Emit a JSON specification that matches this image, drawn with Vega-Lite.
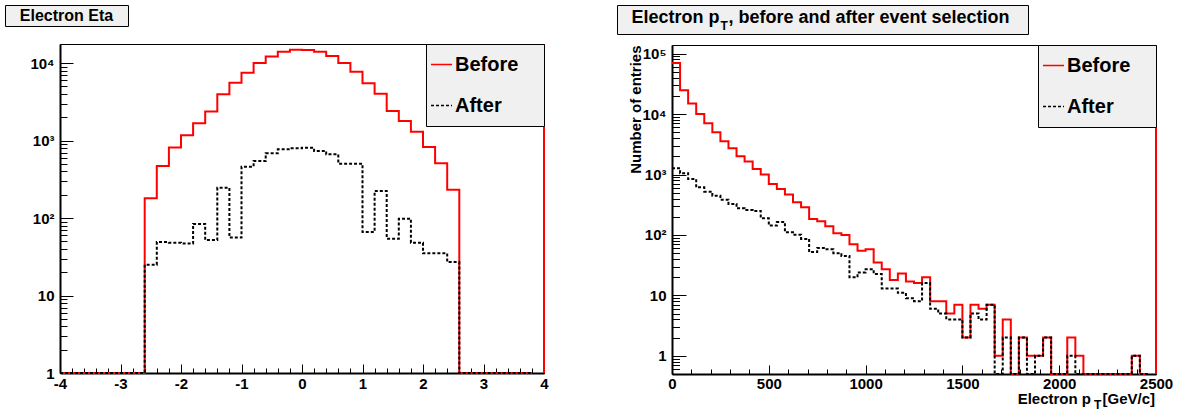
{
  "$schema": "https://vega.github.io/schema/vega-lite/v6.json",
  "background": "white",
  "padding": {"left": 4, "top": 4, "right": 0, "bottom": 0},
  "config": {
    "font": "Liberation Sans",
    "axis": {
      "labelFont": "Liberation Sans", "labelFontWeight": "bold", "labelFontSize": 15, "labelColor": "black",
      "tickColor": "black", "domainColor": "black", "grid": false, "zindex": 0,
      "titleFont": "Liberation Sans", "titleFontWeight": "bold", "titleFontSize": 15, "titleColor": "black",
      "labelFlush": false, "labelOverlap": false
    },
    "legend": {
      "orient": "top-right", "offset": 0, "fillColor": "#f0f0f0", "strokeColor": "black", "padding": 0,
      "labelFont": "Liberation Sans", "labelFontSize": 20, "labelFontWeight": "bold", "labelColor": "black",
      "symbolSize": 441, "symbolStrokeWidth": 1.5, "clipHeight": 41, "rowPadding": 0,
      "symbolOffset": 4, "labelOffset": 2, "labelLimit": 0,
      "titleOrient": "right", "titlePadding": 26, "titleFontSize": 1
    }
  },
  "datasets": {
    "eta": [
      {"eta": -4.0, "before": 1, "after": 1},
      {"eta": -3.8, "before": 1, "after": 1},
      {"eta": -3.6, "before": 1, "after": 1},
      {"eta": -3.4, "before": 1, "after": 1},
      {"eta": -3.2, "before": 1, "after": 1},
      {"eta": -3.0, "before": 1, "after": 1},
      {"eta": -2.8, "before": 1, "after": 1},
      {"eta": -2.6, "before": 180, "after": 25},
      {"eta": -2.4, "before": 470, "after": 49},
      {"eta": -2.2, "before": 810, "after": 48},
      {"eta": -2.0, "before": 1170, "after": 47},
      {"eta": -1.8, "before": 1670, "after": 84},
      {"eta": -1.6, "before": 2360, "after": 52},
      {"eta": -1.4, "before": 3950, "after": 246},
      {"eta": -1.2, "before": 5570, "after": 56},
      {"eta": -1.0, "before": 7500, "after": 460},
      {"eta": -0.8, "before": 10000, "after": 544},
      {"eta": -0.6, "before": 12100, "after": 683},
      {"eta": -0.4, "before": 14000, "after": 769},
      {"eta": -0.2, "before": 14850, "after": 793},
      {"eta": 0.0, "before": 14700, "after": 807},
      {"eta": 0.2, "before": 14000, "after": 733},
      {"eta": 0.4, "before": 12300, "after": 664},
      {"eta": 0.6, "before": 10000, "after": 503},
      {"eta": 0.8, "before": 7720, "after": 502},
      {"eta": 1.0, "before": 5470, "after": 66},
      {"eta": 1.2, "before": 4020, "after": 223},
      {"eta": 1.4, "before": 2400, "after": 54},
      {"eta": 1.6, "before": 1785, "after": 98},
      {"eta": 1.8, "before": 1300, "after": 48},
      {"eta": 2.0, "before": 824, "after": 35},
      {"eta": 2.2, "before": 508, "after": 35},
      {"eta": 2.4, "before": 232, "after": 27},
      {"eta": 2.6, "before": 1, "after": 1},
      {"eta": 2.8, "before": 1, "after": 1},
      {"eta": 3.0, "before": 1, "after": 1},
      {"eta": 3.2, "before": 1, "after": 1},
      {"eta": 3.4, "before": 1, "after": 1},
      {"eta": 3.6, "before": 1, "after": 1},
      {"eta": 3.8, "before": 1, "after": 1}
    ],
    "pt": [
      {"pt": 0, "before": 69700, "after": 1265},
      {"pt": 41.67, "before": 24900, "after": 1050},
      {"pt": 83.33, "before": 15000, "after": 843},
      {"pt": 125, "before": 10000, "after": 614},
      {"pt": 166.67, "before": 7020, "after": 520},
      {"pt": 208.33, "before": 4990, "after": 447},
      {"pt": 250, "before": 3540, "after": 384},
      {"pt": 291.67, "before": 2710, "after": 325},
      {"pt": 333.33, "before": 2000, "after": 276},
      {"pt": 375, "before": 1635, "after": 259},
      {"pt": 416.67, "before": 1234, "after": 249},
      {"pt": 458.33, "before": 996, "after": 188},
      {"pt": 500, "before": 695, "after": 143},
      {"pt": 541.67, "before": 576, "after": 164},
      {"pt": 583.33, "before": 465, "after": 111},
      {"pt": 625, "before": 347, "after": 101},
      {"pt": 666.67, "before": 287, "after": 86},
      {"pt": 708.33, "before": 184, "after": 52},
      {"pt": 750, "before": 168, "after": 61},
      {"pt": 791.67, "before": 139, "after": 58},
      {"pt": 833.33, "before": 107, "after": 50},
      {"pt": 875, "before": 100, "after": 45},
      {"pt": 916.67, "before": 70, "after": 20},
      {"pt": 958.33, "before": 55, "after": 24},
      {"pt": 1000, "before": 58, "after": 27},
      {"pt": 1041.67, "before": 35, "after": 22.5},
      {"pt": 1083.33, "before": 27, "after": 13},
      {"pt": 1125, "before": 18, "after": 13},
      {"pt": 1166.67, "before": 23, "after": 11},
      {"pt": 1208.33, "before": 17, "after": 9},
      {"pt": 1250, "before": 16, "after": 8},
      {"pt": 1291.67, "before": 20, "after": 16},
      {"pt": 1333.33, "before": 8, "after": 6},
      {"pt": 1375, "before": 8, "after": 5},
      {"pt": 1416.67, "before": 5, "after": 4},
      {"pt": 1458.33, "before": 7, "after": 4},
      {"pt": 1500, "before": 2, "after": 2},
      {"pt": 1541.67, "before": 7, "after": 5},
      {"pt": 1583.33, "before": 6, "after": 4},
      {"pt": 1625, "before": 7, "after": 7},
      {"pt": 1666.67, "before": 1, "after": 0.5},
      {"pt": 1708.33, "before": 4, "after": 2},
      {"pt": 1750, "before": 0.5, "after": 0.5},
      {"pt": 1791.67, "before": 2, "after": 2},
      {"pt": 1833.33, "before": 1, "after": 0.5},
      {"pt": 1875, "before": 1, "after": 1},
      {"pt": 1916.67, "before": 2, "after": 2},
      {"pt": 1958.33, "before": 0.5, "after": 0.5},
      {"pt": 2000, "before": 0.5, "after": 0.5},
      {"pt": 2041.67, "before": 2, "after": 1},
      {"pt": 2083.33, "before": 1, "after": 0.5},
      {"pt": 2125, "before": 0.5, "after": 0.5},
      {"pt": 2166.67, "before": 0.5, "after": 0.5},
      {"pt": 2208.33, "before": 0.5, "after": 0.5},
      {"pt": 2250, "before": 0.5, "after": 0.5},
      {"pt": 2291.67, "before": 0.5, "after": 0.5},
      {"pt": 2333.33, "before": 0.5, "after": 0.5},
      {"pt": 2375, "before": 1, "after": 1},
      {"pt": 2416.67, "before": 0.5, "after": 0.5},
      {"pt": 2458.33, "before": 0.5, "after": 0.5}
    ]
  },
  "resolve": {
    "scale": {"color": "independent", "strokeDash": "independent"},
    "legend": {"color": "independent", "strokeDash": "independent"}
  },
  "hconcat": [
    {
      "spacing": 15,
      "resolve": {
        "scale": {"color": "independent", "strokeDash": "independent"},
        "legend": {"color": "independent", "strokeDash": "independent"}
      },
      "vconcat": [
        {
          "width": 123, "height": 21,
          "view": {"fill": "#f0f0f0", "stroke": "black", "strokeWidth": 1},
          "data": {"values": [{"t": "Electron Eta"}]},
          "mark": {"type": "text", "font": "Liberation Sans", "fontWeight": "bold", "fontSize": 16, "color": "black"},
          "encoding": {"text": {"field": "t"}}
        },
        {
          "spacing": 0,
          "resolve": {
            "scale": {"color": "independent", "strokeDash": "independent"},
            "legend": {"color": "independent", "strokeDash": "independent"}
          },
          "hconcat": [
            {
              "width": 1, "height": 1,
              "view": {"stroke": null, "fill": null},
              "data": {"values": []},
              "mark": {"type": "point", "opacity": 0}
            },
            {
              "width": 484, "height": 329,
              "view": {"stroke": "black", "strokeWidth": 1, "fill": "white"},
              "data": {"name": "eta"},
              "layer": [
                {
                  "mark": {"type": "line", "interpolate": "step-after", "strokeWidth": 2},
                  "encoding": {
                    "x": {"field": "eta", "type": "quantitative", "scale": {"domain": [-4, 4], "nice": false, "zero": false},
                          "axis": {"orient": "bottom", "values": [-4, -3, -2, -1, 0, 1, 2, 3, 4], "labelExpr": "datum.value < 0 ? '-' + abs(datum.value) : '' + datum.value", "tickSize": -9, "labelPadding": 12, "domainWidth": 2, "title": null}},
                    "y": {"field": "before", "type": "quantitative", "scale": {"type": "log", "domain": [1, 17600], "nice": false},
                          "axis": {"orient": "left", "values": [1, 10, 100, 1000, 10000], "labelExpr": "datum.value < 5 ? '1' : datum.value < 50 ? '10' : datum.value < 500 ? '10²' : datum.value < 5000 ? '10³' : '10⁴'", "tickSize": -13, "labelPadding": 19, "domainWidth": 2, "title": null, "minExtent": 53, "maxExtent": 53}},
                    "color": {"datum": "Before", "type": "nominal", "scale": {"domain": ["Before", "After"], "range": ["#ff0000", "#000000"]}, "legend": {"title": "\u00a0"}},
                    "strokeDash": {"datum": "Before", "type": "nominal", "scale": {"domain": ["Before", "After"], "range": [[1, 0], [3, 2]]}, "legend": {"title": "\u00a0"}}
                  }
                },
                {
                  "mark": {"type": "line", "interpolate": "step-after", "strokeWidth": 2},
                  "encoding": {
                    "x": {"field": "eta", "type": "quantitative",
                          "axis": {"orient": "bottom", "values": [-3.8, -3.6, -3.4, -3.2, -2.8, -2.6, -2.4, -2.2, -1.8, -1.6, -1.4, -1.2, -0.8, -0.6, -0.4, -0.2, 0.2, 0.4, 0.6, 0.8, 1.2, 1.4, 1.6, 1.8, 2.2, 2.4, 2.6, 2.8, 3.2, 3.4, 3.6, 3.8], "tickSize": -5, "labels": false, "domain": false, "title": null}},
                    "y": {"field": "after", "type": "quantitative",
                          "axis": {"orient": "left", "values": [2, 3, 4, 5, 6, 7, 8, 9, 20, 30, 40, 50, 60, 70, 80, 90, 200, 300, 400, 500, 600, 700, 800, 900, 2000, 3000, 4000, 5000, 6000, 7000, 8000, 9000], "tickSize": -7, "labels": false, "domain": false, "title": null, "minExtent": 0}},
                    "color": {"datum": "After", "type": "nominal"},
                    "strokeDash": {"datum": "After", "type": "nominal"}
                  }
                },
                {
                  "data": {"values": [{}]},
                  "mark": {"type": "rule", "color": "#ff0000", "strokeWidth": 2},
                  "encoding": {
                    "x": {"datum": 4, "type": "quantitative", "axis": null},
                    "y": {"datum": 1, "type": "quantitative", "axis": null},
                    "y2": {"datum": 17600}
                  }
                }
              ],
              "resolve": {"axis": {"x": "independent", "y": "independent"}}
            }
          ]
        }
      ]
    },
    {
      "spacing": 8,
      "resolve": {
        "scale": {"color": "independent", "strokeDash": "independent"},
        "legend": {"color": "independent", "strokeDash": "independent"}
      },
      "vconcat": [
        {
          "width": 411, "height": 29,
          "view": {"fill": "#f0f0f0", "stroke": "black", "strokeWidth": 1},
          "data": {"values": [{"a": "Electron p", "b": "T", "c": ", before and after event selection"}]},
          "layer": [
            {"mark": {"type": "text", "align": "right", "font": "Liberation Sans", "fontWeight": "bold", "fontSize": 18, "dx": -103, "dy": -2, "color": "black"}, "encoding": {"text": {"field": "a"}}},
            {"mark": {"type": "text", "align": "left", "font": "Liberation Sans", "fontWeight": "bold", "fontSize": 12, "dx": -102, "dy": 6, "color": "black"}, "encoding": {"text": {"field": "b"}}},
            {"mark": {"type": "text", "align": "left", "font": "Liberation Sans", "fontWeight": "bold", "fontSize": 18, "dx": -94, "dy": -2, "color": "black"}, "encoding": {"text": {"field": "c"}}}
          ]
        },
        {
          "spacing": 0,
          "resolve": {
            "scale": {"color": "independent", "strokeDash": "independent"},
            "legend": {"color": "independent", "strokeDash": "independent"}
          },
          "hconcat": [
            {
              "width": 1, "height": 1,
              "view": {"stroke": null, "fill": null},
              "data": {"values": []},
              "mark": {"type": "point", "opacity": 0}
            },
            {
              "width": 484, "height": 329,
              "view": {"stroke": "black", "strokeWidth": 1, "fill": "white"},
              "data": {"name": "pt"},
              "layer": [
                {
                  "mark": {"type": "line", "interpolate": "step-after", "strokeWidth": 2},
                  "encoding": {
                    "x": {"field": "pt", "type": "quantitative", "scale": {"domain": [0, 2500], "nice": false, "zero": false},
                          "axis": {"orient": "bottom", "values": [0, 500, 1000, 1500, 2000, 2500], "tickSize": -9, "labelPadding": 11, "domainWidth": 2, "title": null, "format": "d"}},
                    "y": {"field": "before", "type": "quantitative", "scale": {"type": "log", "domain": [0.5, 139000], "nice": false},
                          "axis": {"orient": "left", "values": [1, 10, 100, 1000, 10000, 100000], "labelExpr": "datum.value < 5 ? '1' : datum.value < 50 ? '10' : datum.value < 500 ? '10²' : datum.value < 5000 ? '10³' : datum.value < 50000 ? '10⁴' : '10⁵'", "tickSize": -14, "labelPadding": 20, "domainWidth": 2, "title": "Number of entries", "titleAnchor": "end", "titleX": -37, "titleBaseline": "middle", "minExtent": 53, "maxExtent": 53}},
                    "color": {"datum": "Before", "type": "nominal", "scale": {"domain": ["Before", "After"], "range": ["#ff0000", "#000000"]}, "legend": {"title": "\u00a0"}},
                    "strokeDash": {"datum": "Before", "type": "nominal", "scale": {"domain": ["Before", "After"], "range": [[1, 0], [3, 2]]}, "legend": {"title": "\u00a0"}}
                  }
                },
                {
                  "mark": {"type": "line", "interpolate": "step-after", "strokeWidth": 2},
                  "encoding": {
                    "x": {"field": "pt", "type": "quantitative",
                          "axis": {"orient": "bottom", "values": [100, 200, 300, 400, 600, 700, 800, 900, 1100, 1200, 1300, 1400, 1600, 1700, 1800, 1900, 2100, 2200, 2300, 2400], "tickSize": -5, "labels": false, "domain": false, "title": null}},
                    "y": {"field": "after", "type": "quantitative",
                          "axis": {"orient": "left", "values": [0.6, 0.7, 0.8, 0.9, 2, 3, 4, 5, 6, 7, 8, 9, 20, 30, 40, 50, 60, 70, 80, 90, 200, 300, 400, 500, 600, 700, 800, 900, 2000, 3000, 4000, 5000, 6000, 7000, 8000, 9000, 20000, 30000, 40000, 50000, 60000, 70000, 80000, 90000], "tickSize": -7.5, "labels": false, "domain": false, "title": null, "minExtent": 0}},
                    "color": {"datum": "After", "type": "nominal"},
                    "strokeDash": {"datum": "After", "type": "nominal"}
                  }
                },
                {
                  "data": {"values": [{}]},
                  "mark": {"type": "rule", "color": "#ff0000", "strokeWidth": 2},
                  "encoding": {
                    "x": {"datum": 2500, "type": "quantitative", "axis": null},
                    "y": {"datum": 0.5, "type": "quantitative", "axis": null},
                    "y2": {"datum": 139000}
                  }
                },
                {
                  "data": {"values": [{"a": "Electron p", "b": "T", "c": "[GeV/c]"}]},
                  "encoding": {"x": {"datum": 2500, "type": "quantitative", "axis": null}, "y": {"datum": 0.5, "type": "quantitative", "axis": null}},
                  "layer": [
                    {"mark": {"type": "text", "align": "right", "baseline": "alphabetic", "font": "Liberation Sans", "fontWeight": "bold", "fontSize": 15, "dx": -1, "dy": 30, "color": "black", "clip": false}, "encoding": {"text": {"field": "c"}}},
                    {"mark": {"type": "text", "align": "left", "baseline": "alphabetic", "font": "Liberation Sans", "fontWeight": "bold", "fontSize": 12, "dx": -62, "dy": 35, "color": "black", "clip": false}, "encoding": {"text": {"field": "b"}}},
                    {"mark": {"type": "text", "align": "right", "baseline": "alphabetic", "font": "Liberation Sans", "fontWeight": "bold", "fontSize": 15, "dx": -65, "dy": 30, "color": "black", "clip": false}, "encoding": {"text": {"field": "a"}}}
                  ]
                }
              ],
              "resolve": {"axis": {"x": "independent", "y": "independent"}}
            }
          ]
        }
      ]
    }
  ],
  "spacing": 67
}
